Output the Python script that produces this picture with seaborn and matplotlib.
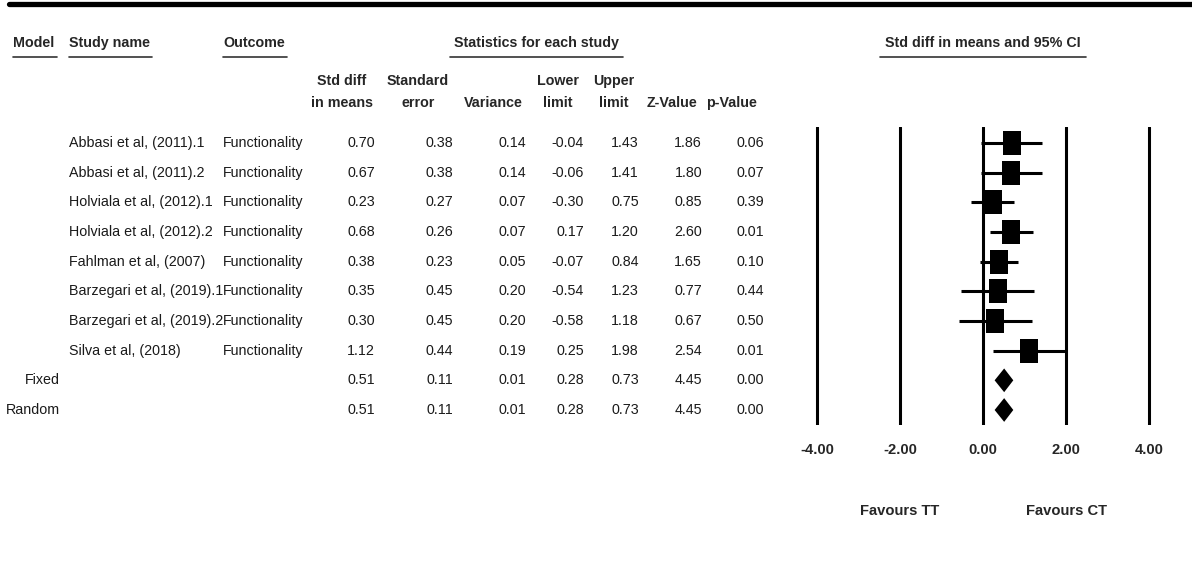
import matplotlib
matplotlib.use("Agg")
import matplotlib.pyplot as plt
import matplotlib.transforms as mtransforms
from matplotlib.lines import Line2D
from matplotlib import font_manager
import numpy as np
import pandas as pd
import seaborn as sns

# Data
models = ["", "", "", "", "", "", "", "", "Fixed", "Random"]
studies = ["Abbasi et al, (2011).1", "Abbasi et al, (2011).2",
           "Holviala et al, (2012).1", "Holviala et al, (2012).2",
           "Fahlman et al, (2007)", "Barzegari et al, (2019).1",
           "Barzegari et al, (2019).2", "Silva et al, (2018)", "", ""]
outcomes = ["Functionality"] * 8 + ["", ""]
std_diff = [0.70, 0.67, 0.23, 0.68, 0.38, 0.35, 0.30, 1.12, 0.51, 0.51]
std_err = [0.38, 0.38, 0.27, 0.26, 0.23, 0.45, 0.45, 0.44, 0.11, 0.11]
variance = [0.14, 0.14, 0.07, 0.07, 0.05, 0.20, 0.20, 0.19, 0.01, 0.01]
lower = [-0.04, -0.06, -0.30, 0.17, -0.07, -0.54, -0.58, 0.25, 0.28, 0.28]
upper = [1.43, 1.41, 0.75, 1.20, 0.84, 1.23, 1.18, 1.98, 0.73, 0.73]
z_value = [1.86, 1.80, 0.85, 2.60, 1.65, 0.77, 0.67, 2.54, 4.45, 4.45]
p_value = [0.06, 0.07, 0.39, 0.01, 0.10, 0.44, 0.50, 0.01, 0.00, 0.00]
x_ticks = [-4.0, -2.0, 0.0, 2.0, 4.0]
favours = ["Favours TT", "Favours CT"]

df = pd.DataFrame({
    "model": models, "study": studies, "outcome": outcomes,
    "est": std_diff, "se": std_err, "var": variance,
    "lo": lower, "hi": upper, "z": z_value, "p": p_value,
})
df["row"] = np.arange(len(df))
is_study = df["study"] != ""

sns.set_style("white")
# an Arial Narrow look-alike if one is installed, else plain Liberation Sans
narrow = [f for f in font_manager.fontManager.ttflist
          if "LiberationSansNarrow" in f.fname.replace("-", "")
          or f.name == "Liberation Sans Narrow"]
if narrow:
    plt.rcParams["font.family"] = ["Liberation Sans Narrow", "DejaVu Sans"]
    fs = 12.5
else:
    plt.rcParams["font.family"] = ["Liberation Sans", "DejaVu Sans"]
    fs = 10.3

W, H = 1192, 573
fig = plt.figure(figsize=(W / 100, H / 100), dpi=100)


def fx(x):
    return x / W


def fy(y):
    return 1 - y / H


# forest panel: -4.5..4.5 spans px 796..1170, rows 0..9 at px 143..410
ax = fig.add_axes([fx(796.25), fy(425), (1169.75 - 796.25) / W, 298 / H])
ax.set_xlim(-4.5, 4.5)
ax.set_ylim(9.506, -0.539)
for s in ax.spines.values():
    s.set_visible(False)

for t in x_ticks:
    ax.axvline(t, color="black", lw=2.2, zorder=1)

studies_df = df[is_study]
ax.hlines(studies_df["row"], studies_df["lo"], studies_df["hi"],
          color="black", lw=2.2, zorder=2)
box = [(-0.37, -0.5), (0.37, -0.5), (0.37, 0.5), (-0.37, 0.5), (-0.37, -0.5)]
sns.scatterplot(data=studies_df, x="est", y="row", marker=box, s=275,
                color="black", linewidth=0, ax=ax, zorder=3, legend=False)

for _, r in df[~is_study].iterrows():
    ax.fill([r["lo"], r["est"], r["hi"], r["est"]],
            [r["row"], r["row"] - 0.4, r["row"], r["row"] + 0.4],
            color="black", lw=0, zorder=3)

ax.set_xticks(x_ticks)
ax.set_xticklabels([f"{t:.2f}" for t in x_ticks], fontsize=fs + 0.3,
                   fontweight="bold")
ax.tick_params(axis="x", length=0, pad=13)
ax.set_yticks([])
ax.set_xlabel("")
ax.set_ylabel("")

fav_tr = mtransforms.blended_transform_factory(ax.transData, ax.transAxes)
for xpos, lab in zip([-2.0, 2.0], favours):
    ax.text(xpos, -0.288, lab, transform=fav_tr, ha="center", va="center",
            fontsize=fs + 0.3, fontweight="bold", clip_on=False)

# table text
row_tr = mtransforms.blended_transform_factory(fig.transFigure, ax.transData)
txt = "#1a1a1a"
for _, r in df.iterrows():
    y = r["row"]
    if r["model"]:
        fig.text(fx(60), y, r["model"], transform=row_tr, ha="right",
                 va="center", fontsize=fs, color=txt)
    fig.text(fx(69), y, r["study"], transform=row_tr, ha="left",
             va="center", fontsize=fs, color=txt)
    fig.text(fx(223), y, r["outcome"], transform=row_tr, ha="left",
             va="center", fontsize=fs, color=txt)
    for col, xr in zip(["est", "se", "var", "lo", "hi", "z", "p"],
                       [375, 453, 526, 584, 639, 702, 764]):
        fig.text(fx(xr), y, f"{r[col]:.2f}", transform=row_tr, ha="right",
                 va="center", fontsize=fs, color=txt)

# column headers
heads = [("Std diff", "in means", 342), ("Standard", "error", 418),
         ("", "Variance", 493), ("Lower", "limit", 558),
         ("Upper", "limit", 614), ("", "Z-Value", 672), ("", "p-Value", 731)]
for l1, l2, xc in heads:
    if l1:
        fig.text(fx(xc), fy(81), l1, ha="center", va="center", fontsize=fs,
                 fontweight="bold")
    fig.text(fx(xc), fy(103), l2, ha="center", va="center", fontsize=fs,
             fontweight="bold")

groups = [("Model", 13, 57, "left"), ("Study name", 69, 152, "left"),
          ("Outcome", 223, 287, "left"),
          ("Statistics for each study", 450, 623, "center"),
          ("Std diff in means and 95% CI", 880, 1086, "center")]
for lab, x0, x1, ha in groups:
    xt = x0 if ha == "left" else (x0 + x1) / 2
    fig.text(fx(xt), fy(43), lab, ha=ha, va="center", fontsize=fs,
             fontweight="bold")
    fig.add_artist(Line2D([fx(x0), fx(x1)], [fy(56.5), fy(56.5)],
                          color="#333333", lw=1.2))

# thick rule on top
fig.add_artist(Line2D([fx(9), fx(W)], [fy(3.5), fy(3.5)], color="black",
                      lw=3.8))

fig.savefig("out.png", dpi=100)
plt.close(fig)
